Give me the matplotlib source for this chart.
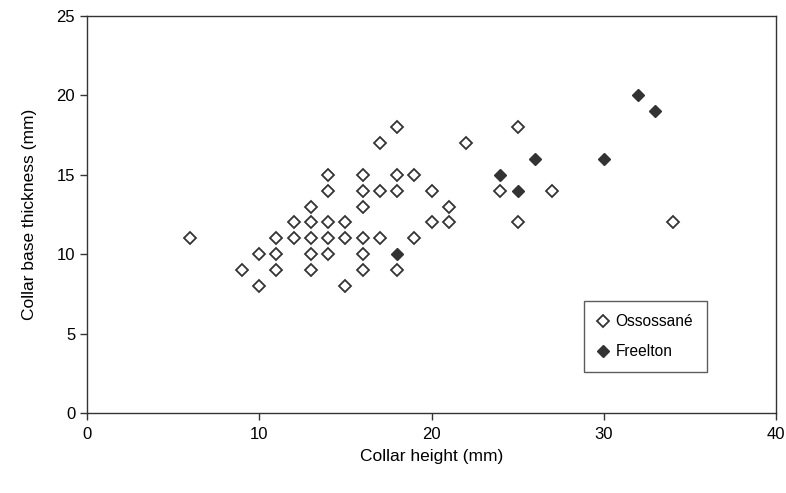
import matplotlib
matplotlib.use('Agg')
import matplotlib.pyplot as plt

plt.rcParams['font.family'] = ['Liberation Sans', 'DejaVu Sans']

# Ossossane collars (height, base thickness) in mm
oss_x = [6, 9, 10, 10, 11, 11, 11, 12, 12, 13, 13, 13, 13, 13,
         14, 14, 14, 14, 14, 15, 15, 15, 16, 16, 16, 16, 16, 16,
         17, 17, 17, 18, 18, 18, 18, 19, 19, 20, 20, 21, 21, 22,
         24, 25, 25, 27, 34]
oss_y = [11, 9, 10, 8, 11, 10, 9, 12, 11, 13, 12, 11, 10, 9,
         15, 14, 12, 11, 10, 12, 11, 8, 15, 14, 13, 11, 10, 9,
         17, 14, 11, 18, 15, 14, 9, 15, 11, 14, 12, 13, 12, 17,
         14, 18, 12, 14, 12]

# Freelton collars
fre_x = [18, 24, 25, 26, 30, 32, 33]
fre_y = [10, 15, 14, 16, 16, 20, 19]

dark = '#333333'

fig = plt.figure(figsize=(7.86, 4.93), dpi=100)
ax = fig.add_axes([0.1107, 0.1623, 0.8766, 0.8052])

ax.plot(oss_x, oss_y, linestyle='none', marker='D', ms=6.2,
        mfc='white', mec=dark, mew=1.3, label='Ossossané')
ax.plot(fre_x, fre_y, linestyle='none', marker='D', ms=6.6,
        mfc=dark, mec=dark, mew=1.0, label='Freelton')

ax.set_xlim(0, 40)
ax.set_ylim(0, 25)
ax.set_xticks([0, 10, 20, 30, 40])
ax.set_yticks([0, 5, 10, 15, 20, 25])
ax.tick_params(direction='out', length=5, width=1, colors=dark,
               labelsize=12, labelcolor='black')
ax.tick_params(axis='x', pad=5)
for s in ax.spines.values():
    s.set_color(dark)
    s.set_linewidth(1.0)

ax.set_xlabel('Collar height (mm)', fontsize=12.5, labelpad=5)
ax.set_ylabel('Collar base thickness (mm)', fontsize=12.5, labelpad=14)

leg = ax.legend(loc='upper left', bbox_to_anchor=(0.721, 0.282),
                fontsize=11.2, frameon=True, fancybox=False,
                handlelength=0.8, handletextpad=0.4, labelspacing=0.95,
                borderpad=0.85, borderaxespad=0)
leg.get_frame().set_edgecolor(dark)
leg.get_frame().set_linewidth(1.0)

fig.savefig('out.png', dpi=100)
